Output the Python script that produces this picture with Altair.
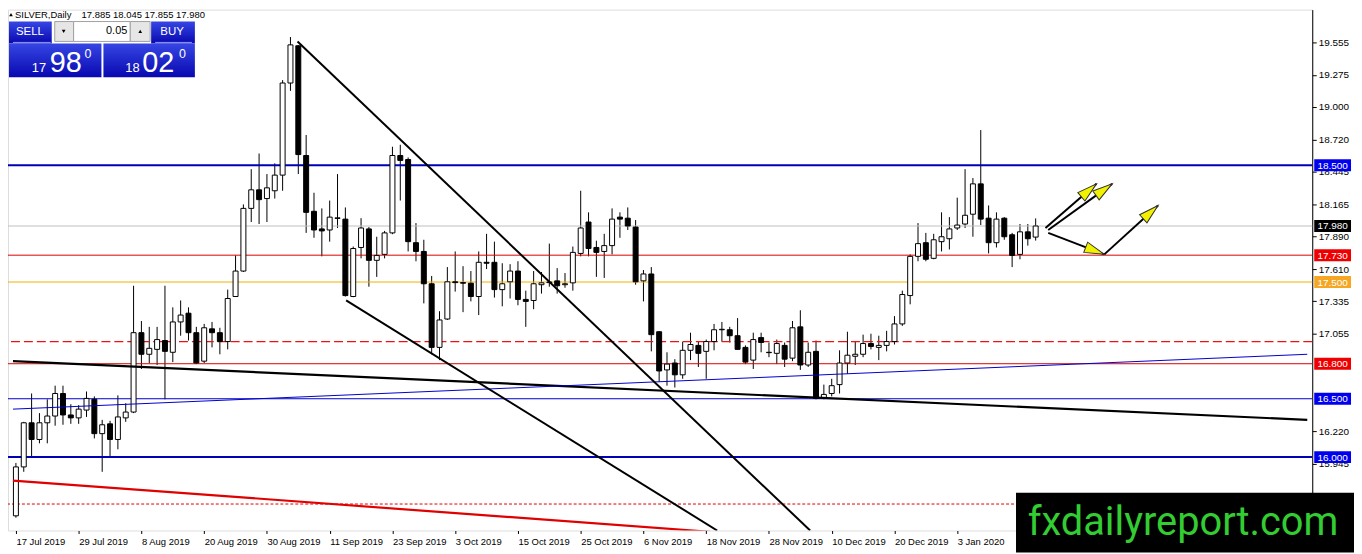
import math
import altair as alt
import pandas as pd

# ---------------- data ----------------
date_labels = ["17 Jul 2019", "29 Jul 2019", "8 Aug 2019", "20 Aug 2019", "30 Aug 2019",
               "11 Sep 2019", "23 Sep 2019", "3 Oct 2019", "15 Oct 2019", "25 Oct 2019",
               "6 Nov 2019", "18 Nov 2019", "28 Nov 2019", "10 Dec 2019", "20 Dec 2019",
               "3 Jan 2020"]
label_step = 8  # one date label every 8 daily bars

opens = [15.497, 15.916, 16.294, 16.151, 16.294, 16.352, 16.545, 16.361, 16.336, 16.403,
         16.495, 16.201, 16.285, 16.151, 16.336, 16.386, 17.066, 16.881, 16.923, 16.999,
         16.898, 17.158, 17.233, 17.066, 16.822, 17.099, 17.066, 16.990, 17.376, 17.594,
         18.131, 18.290, 18.215, 18.282, 18.416, 19.205, 19.524, 18.584, 18.106, 17.955,
         17.946, 18.045, 18.039, 17.376, 17.796, 17.955, 17.686, 17.737, 17.921, 18.584,
         18.550, 17.837, 17.762, 17.485, 16.940, 17.183, 17.502, 17.495, 17.490, 17.376,
         17.669, 17.669, 17.435, 17.502, 17.594, 17.351, 17.342, 17.477, 17.495, 17.510,
         17.477, 17.493, 17.745, 18.014, 17.796, 17.762, 17.812, 18.056, 18.047, 17.971,
         17.510, 17.569, 17.074, 16.747, 16.806, 16.705, 16.915, 16.957, 16.906, 16.990,
         17.091, 17.091, 17.040, 16.940, 16.831, 17.024, 16.898, 16.889, 16.957, 16.848,
         17.116, 16.789, 16.906, 16.503, 16.545, 16.621, 16.806, 16.864, 16.881, 16.973,
         16.940, 16.957, 16.990, 17.141, 17.384, 17.720, 17.837, 17.703, 17.846, 17.871,
         17.963, 17.997, 18.081, 18.341, 18.047, 17.837, 18.047, 17.905, 17.737, 17.930,
         17.885]
highs = [15.950, 16.302, 16.545, 16.377, 16.495, 16.612, 16.612, 16.453, 16.445, 16.562,
         16.520, 16.319, 16.311, 16.529, 16.461, 17.468, 17.166, 17.116, 17.116, 17.468,
         17.283, 17.342, 17.283, 17.116, 17.141, 17.158, 17.108, 17.435, 17.728, 18.165,
         18.467, 18.601, 18.425, 18.517, 19.230, 19.599, 19.530, 18.760, 18.265, 18.131,
         18.198, 18.425, 18.139, 17.804, 18.047, 17.971, 17.888, 17.938, 18.659, 18.676,
         18.567, 18.005, 17.862, 17.552, 17.250, 17.628, 17.762, 17.636, 17.594, 17.762,
         17.913, 17.846, 17.661, 17.653, 17.678, 17.426, 17.594, 17.586, 17.829, 17.619,
         17.577, 17.804, 18.282, 18.097, 17.854, 17.913, 18.131, 18.097, 18.139, 18.031,
         17.603, 17.628, 17.080, 16.898, 16.839, 16.990, 17.066, 16.990, 17.007, 17.141,
         17.158, 17.116, 17.191, 16.957, 17.066, 17.066, 16.982, 17.007, 16.982, 17.166,
         17.258, 16.982, 16.999, 16.621, 16.671, 16.915, 17.074, 16.990, 17.049, 17.057,
         17.040, 17.082, 17.208, 17.426, 17.737, 18.005, 17.921, 17.913, 18.097, 18.056,
         18.223, 18.467, 18.391, 18.802, 18.156, 18.097, 18.056, 17.921, 17.997, 17.997,
         18.045]
lows = [15.481, 15.874, 16.000, 16.118, 16.118, 16.269, 16.277, 16.285, 16.285, 16.344,
        16.160, 15.874, 16.000, 16.067, 16.302, 16.377, 16.755, 16.806, 16.789, 16.495,
        16.814, 17.040, 16.999, 16.797, 16.806, 16.940, 16.881, 16.923, 17.376, 17.586,
        18.014, 17.997, 18.014, 18.215, 18.282, 19.138, 18.425, 17.921, 17.879, 17.720,
        17.846, 17.963, 17.376, 17.370, 17.703, 17.460, 17.544, 17.703, 17.910, 18.198,
        17.762, 17.678, 17.317, 16.881, 16.831, 17.175, 17.418, 17.242, 17.334, 17.217,
        17.611, 17.367, 17.292, 17.359, 17.301, 17.116, 17.267, 17.401, 17.460, 17.401,
        17.451, 17.426, 17.720, 17.720, 17.544, 17.535, 17.737, 17.879, 17.946, 17.477,
        17.334, 16.906, 16.646, 16.612, 16.596, 16.671, 16.831, 16.772, 16.671, 16.915,
        16.990, 16.982, 16.920, 16.797, 16.755, 16.898, 16.856, 16.797, 16.772, 16.822,
        16.747, 16.772, 16.495, 16.495, 16.520, 16.545, 16.713, 16.789, 16.856, 16.923,
        16.831, 16.906, 16.965, 17.124, 17.309, 17.678, 17.678, 17.695, 17.762, 17.779,
        17.946, 17.963, 17.888, 17.988, 17.745, 17.796, 17.862, 17.628, 17.695, 17.812,
        17.855]
closes = [15.916, 16.294, 16.151, 16.294, 16.352, 16.545, 16.361, 16.336, 16.411, 16.503,
          16.201, 16.277, 16.151, 16.344, 16.386, 17.066, 16.881, 16.932, 17.007, 16.906,
          17.158, 17.217, 17.066, 16.806, 17.108, 17.066, 16.990, 17.359, 17.594, 18.131,
          18.290, 18.206, 18.307, 18.416, 19.205, 19.532, 18.592, 18.097, 17.946, 17.938,
          18.056, 18.050, 17.384, 17.787, 17.963, 17.686, 17.728, 17.921, 18.584, 18.542,
          17.846, 17.762, 17.485, 16.940, 17.175, 17.502, 17.495, 17.490, 17.376, 17.669,
          17.661, 17.435, 17.485, 17.594, 17.351, 17.334, 17.485, 17.493, 17.500, 17.468,
          17.485, 17.754, 17.963, 17.787, 17.754, 17.812, 18.039, 18.039, 17.980, 17.502,
          17.569, 17.049, 16.738, 16.797, 16.705, 16.915, 16.965, 16.889, 16.990, 17.091,
          17.095, 17.040, 16.923, 16.814, 17.007, 16.982, 16.895, 16.973, 16.839, 17.108,
          16.789, 16.898, 16.503, 16.537, 16.612, 16.806, 16.873, 16.881, 16.973, 16.948,
          16.957, 16.990, 17.141, 17.393, 17.720, 17.829, 17.695, 17.862, 17.888, 17.955,
          17.988, 18.072, 18.341, 18.039, 17.837, 18.039, 17.888, 17.728, 17.930, 17.871,
          17.980]

# axis ticks that are visible in the reference (those fully hidden by level boxes are left out)
price_ticks = [19.555, 19.275, 19.000, 18.720, 18.445, 18.165, 17.890, 17.610, 17.335,
               17.055, 16.220, 15.945, 15.670]

level_prices = [18.500, 17.980, 17.730, 17.500, 16.800, 16.500, 16.000]
level_line_colors = ["#0000b4", "#c0c0c0", "#dd0000", "#f0b000", "#dd0000", "#0000cc", "#0000b4"]
level_line_widths = [2, 1, 1, 1, 1, 1, 2]
level_box_colors = ["#0000ee", "#000000", "#ee0000", "#f5a623", "#ee0000", "#0000ee", "#0000ee"]

dashed_level = 16.990
dotted_level = 15.598

trend_names = ["channel_black", "blue_support", "red_support", "triangle_upper", "triangle_lower"]
trend_idx0 = [-0.375, -0.375, -0.375, 35.9, 42.1]
trend_price0 = [16.822, 16.411, 15.799, 19.560, 17.342]
trend_idx1 = [164.625, 164.625, 88.5, 101.25, 89.4]
trend_price1 = [16.319, 16.881, 15.360, 15.371, 15.371]
trend_colors = ["#000000", "#0000cc", "#e00000", "#000000", "#000000"]
trend_widths = [2.2, 1, 2.2, 2, 2]

arrow_start_idx = [131.25, 131.6, 131.6, 138.75]
arrow_start_price = [17.963, 17.946, 17.921, 17.737]
arrow_tip_idx = [137.75, 139.75, 138.75, 145.6]
arrow_tip_price = [18.341, 18.341, 17.737, 18.156]

header_symbol = "SILVER,Daily"
header_ohlc = "17.885 18.045 17.855 17.980"

# ---------------- layout ----------------
W, H = 1312, 524
X_DOMAIN = [-0.375, 164.625]
Y_DOMAIN = [15.371, 19.834]
FONT = "Liberation Sans"

xs = alt.Scale(domain=X_DOMAIN, nice=False, zero=False)
ys = alt.Scale(domain=Y_DOMAIN, nice=False, zero=False)

label_expr = "[" + ",".join("'%s'" % d for d in date_labels) + "][round(datum.value / %d)]" % label_step
x_axis = alt.Axis(values=[i * label_step for i in range(len(date_labels))], labelExpr=label_expr,
                  title=None, grid=False, domain=False, tickSize=3, tickColor="black",
                  labelAlign="left", labelBaseline="top", labelPadding=3, labelFont=FONT,
                  labelFontSize=9.5, labelColor="black", labelFlush=False, labelOverlap=False)
y_axis = alt.Axis(orient="right", values=price_ticks, format=".3f", title=None, grid=False,
                  tickSize=4, tickColor="black", domainColor="black", labelFont=FONT,
                  labelFontSize=10, labelColor="black", labelPadding=2, labelFlush=False,
                  labelOverlap=False)


def X(field):
    return alt.X(field, scale=xs, axis=x_axis, title=None)


def Y(field):
    return alt.Y(field, scale=ys, axis=y_axis, title=None)


candles = pd.DataFrame({"idx": list(range(len(opens))), "open": opens, "high": highs,
                        "low": lows, "close": closes})
base = alt.Chart(candles)

wicks = base.mark_rule(color="black", strokeWidth=1).encode(
    x=X("idx:Q"), y=Y("low:Q"), y2="high:Q")
bodies = base.mark_bar(size=5, stroke="black", strokeWidth=1).encode(
    x=X("idx:Q"), y=Y("open:Q"), y2="close:Q",
    fill=alt.condition("datum.close >= datum.open", alt.value("white"), alt.value("black")),
)

levels_df = pd.DataFrame({"price": level_prices, "line": level_line_colors,
                          "w": level_line_widths, "box": level_box_colors,
                          "label": ["%.3f" % p for p in level_prices]})
level_lines = alt.Chart(levels_df).mark_rule().encode(
    y=Y("price:Q"),
    color=alt.Color("line:N", scale=None),
    strokeWidth=alt.StrokeWidth("w:Q", scale=None),
)
dashed = alt.Chart(pd.DataFrame({"price": [dashed_level]})).mark_rule(
    color="#ee1111", stroke="#ee1111", strokeWidth=1.2, strokeDash=[9, 4], opacity=1).encode(
    y=Y("price:Q"))
dotted = alt.Chart(pd.DataFrame({"price": [dotted_level]})).mark_rule(
    color="#e00000", stroke="#e00000", strokeWidth=1, strokeDash=[3, 2], opacity=1).encode(
    y=Y("price:Q"))

trend_rows = []
for n, a0, p0, a1, p1, c, w in zip(trend_names, trend_idx0, trend_price0, trend_idx1,
                                   trend_price1, trend_colors, trend_widths):
    trend_rows.append({"name": n, "idx": a0, "price": p0, "c": c, "w": w})
    trend_rows.append({"name": n, "idx": a1, "price": p1, "c": c, "w": w})
trends = alt.Chart(pd.DataFrame(trend_rows)).mark_line(clip=True).encode(
    x=X("idx:Q"), y=Y("price:Q"),
    detail="name:N",
    color=alt.Color("c:N", scale=None),
    strokeWidth=alt.StrokeWidth("w:Q", scale=None),
)

px_idx = W / (X_DOMAIN[1] - X_DOMAIN[0])
px_price = H / (Y_DOMAIN[1] - Y_DOMAIN[0])
angles = []
for si, sp, ti, tp in zip(arrow_start_idx, arrow_start_price, arrow_tip_idx, arrow_tip_price):
    dx = (ti - si) * px_idx
    up = (tp - sp) * px_price
    angles.append(math.degrees(math.atan2(dx, up)) % 360)
arrows_df = pd.DataFrame({"si": arrow_start_idx, "sp": arrow_start_price,
                          "ti": arrow_tip_idx, "tp": arrow_tip_price, "ang": angles})
shafts = alt.Chart(arrows_df).mark_rule(color="black", strokeWidth=2).encode(
    x=X("si:Q"), y=Y("sp:Q"), x2="ti:Q", y2="tp:Q")
heads = alt.Chart(arrows_df).mark_point(
    shape="M0,0L0.55,2L-0.55,2Z", filled=True, fill="#f2f200", stroke="#303030",
    strokeWidth=1, size=400, opacity=1).encode(
    x=X("ti:Q"), y=Y("tp:Q"), angle=alt.Angle("ang:Q", scale=None))

box_half = 6 / px_price
boxes = alt.Chart(levels_df).transform_calculate(
    top="datum.price + %f" % box_half, bot="datum.price - %f" % box_half).mark_rect().encode(
    x=alt.value(W + 2), x2=alt.value(W + 39),
    y=Y("top:Q"), y2="bot:Q",
    fill=alt.Color("box:N", scale=None))
box_text = alt.Chart(levels_df).mark_text(font=FONT, fontSize=10, color="white",
                                          align="center", baseline="middle", dy=0.5).encode(
    x=alt.value(W + 20.5), y=Y("price:Q"), text="label:N")

# ---------------- trading panel & watermark (screen decorations) ----------------
dummy = pd.DataFrame({"a": [0]})
blue_grad = alt.Gradient(gradient="linear",
                         stops=[alt.GradientStop(color="#3646e4", offset=0),
                                alt.GradientStop(color="#0808b0", offset=1)],
                         x1=0, x2=0, y1=0, y2=1)


def prect(x, x2, y, y2, **kw):
    return alt.Chart(dummy).mark_rect(**kw).encode(
        x=alt.value(x), x2=alt.value(x2), y=alt.value(y), y2=alt.value(y2))


def ptext(x, y, text, **kw):
    return alt.Chart(dummy).mark_text(text=text, **kw).encode(x=alt.value(x), y=alt.value(y))


def pline(x, x2, y, **kw):
    return alt.Chart(dummy).mark_rule(**kw).encode(x=alt.value(x), x2=alt.value(x2), y=alt.value(y))


def ppoint(x, y, **kw):
    return alt.Chart(dummy).mark_point(**kw).encode(x=alt.value(x), y=alt.value(y))


panel = [
    ppoint(3, 5, shape="triangle-up", size=14, filled=True, color="black", opacity=1),
    ptext(7, 5, header_symbol, font=FONT, fontSize=9.5, color="black", align="left", baseline="middle"),
    ptext(74, 5, header_ohlc, font=FONT, fontSize=9.5, color="black", align="left", baseline="middle"),
    prect(1, 44, 12, 34, fill=blue_grad),
    prect(1, 94, 34, 68, fill=blue_grad),
    prect(144, 188, 12, 34, fill=blue_grad),
    prect(96, 188, 34, 68, fill=blue_grad),
    prect(47, 66, 12, 32, fill="#e6e6e6", stroke="#a0a0a0", strokeWidth=1),
    prect(66, 123, 12, 32, fill="white", stroke="#a0a0a0", strokeWidth=1),
    prect(123, 143, 12, 32, fill="#e6e6e6", stroke="#a0a0a0", strokeWidth=1),
    ppoint(56, 22, shape="triangle-down", size=14, filled=True, color="black", opacity=1),
    ppoint(133, 22, shape="triangle-up", size=14, filled=True, color="black", opacity=1),
    ptext(120, 22, "0.05", font=FONT, fontSize=11, color="black", align="right", baseline="middle"),
    pline(5, 43, 33, color="#8f9cff", strokeWidth=1),
    pline(148, 185, 33, color="#8f9cff", strokeWidth=1),
    ptext(22, 23, "SELL", font=FONT, fontSize=11.5, color="white", align="center", baseline="middle"),
    ptext(165, 23, "BUY", font=FONT, fontSize=11.5, color="white", align="center", baseline="middle"),
    ptext(24, 63, "17", font=FONT, fontSize=13, color="white", align="left", baseline="alphabetic"),
    ptext(42, 63, "98", font=FONT, fontSize=29, color="white", align="left", baseline="alphabetic"),
    ptext(77, 39, "0", font=FONT, fontSize=12.5, color="white", align="left", baseline="top"),
    ptext(118, 63, "18", font=FONT, fontSize=13, color="white", align="left", baseline="alphabetic"),
    ptext(135, 63, "02", font=FONT, fontSize=29, color="white", align="left", baseline="alphabetic"),
    ptext(172, 39, "0", font=FONT, fontSize=12.5, color="white", align="left", baseline="top"),
]

watermark = [
    prect(1014, W + 42, 486, H + 22, fill="black"),
    ptext(1182, 529, "fxdailyreport.com", font="Roboto", fontSize=40, color="#33cc33",
          align="center", baseline="alphabetic"),
]

chart = alt.layer(
    wicks, level_lines, dashed, dotted, bodies, trends, shafts, heads, boxes, box_text,
    *panel, *watermark
).properties(
    width=W, height=H,
    padding={"left": 0, "top": 0, "right": 42, "bottom": 22},
    autosize=alt.AutoSizeParams(type="none"),
).configure_view(stroke="black", strokeWidth=1).configure(background="white")

chart.save("out.html", embed_options={"renderer": "svg", "actions": False})
